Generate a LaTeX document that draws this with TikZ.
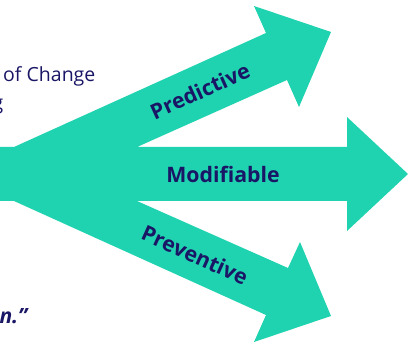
\documentclass[tikz,border=0pt]{standalone}
\usepackage{fontspec}
\setmainfont{Open Sans}
\definecolor{teal}{RGB}{32,211,176}
\definecolor{navy}{RGB}{26,22,102}
\begin{document}
\begin{tikzpicture}[x=1pt,y=-1pt,
  label/.style={text=navy,font=\bfseries\fontsize{21.3}{21.3}\selectfont,inner sep=0pt},
  frag/.style={text=navy,inner sep=0pt}]
\useasboundingbox (0,0) rectangle (409,347);
\begin{scope}
\clip (0,0) rectangle (409,347);
% three arrows fanning out of one stem
\fill[teal] (0,147) -- (14,147) -- (266,33) -- (254,6) -- (331,32) -- (299,107)
  -- (287,80) -- (137,147) -- (347,147) -- (347,117) -- (408,174) -- (347,231)
  -- (347,201) -- (137,201) -- (288,268) -- (300,242) -- (331,316) -- (254,342)
  -- (266,315) -- (14,201) -- (0,201) -- cycle;
% arrow labels
\node[label,rotate=24.3] (pred) at (200,91) {Predictive};
\node[label] (mod) at (223,174.5) {Modifiable};
\node[label,rotate=-24.3] (prev) at (195,255) {Preventive};
% text running in from the left
\node[frag,anchor=base west,font=\fontsize{19.5}{19.5}\selectfont] (chg) at (3,82) {of Change};
\node[frag,anchor=base east,font=\fontsize{19.5}{19.5}\selectfont] (gfrag) at (3.5,110) {g};
\node[frag,anchor=base east,font=\bfseries\itshape\fontsize{21}{21}\selectfont] (quote) at (27.5,323) {n.”};
\end{scope}
\end{tikzpicture}
\end{document}
